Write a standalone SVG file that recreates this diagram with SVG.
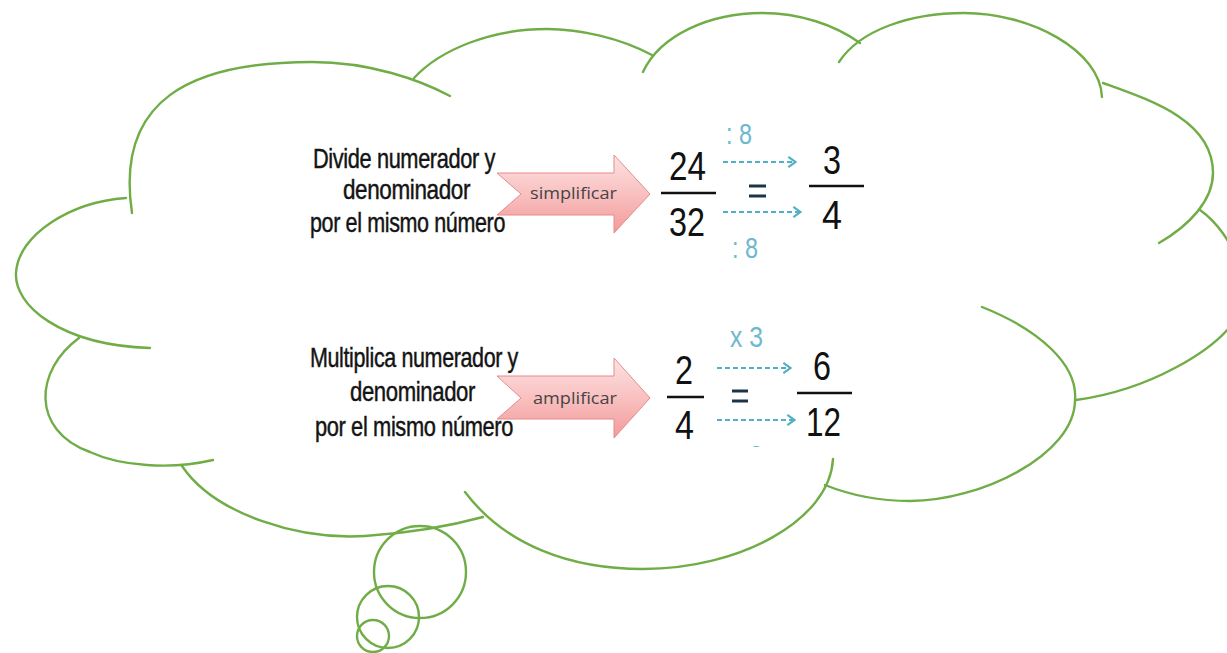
<svg xmlns="http://www.w3.org/2000/svg" width="1227" height="653" viewBox="0 0 1227 653">
  <defs>
    <style>
      .cloud { fill: none; stroke: #70ad47; stroke-width: 2.4; stroke-linecap: round; }
      .lbl { font-family: "Liberation Sans Narrow", "Liberation Sans", Arial, sans-serif; font-size: 28px; fill: #141414; stroke: #141414; stroke-width: 0.45; letter-spacing: -0.5px; }
      .atext { font-family: "Open Sans", "Liberation Sans", sans-serif; font-size: 16px; fill: #444444; }
      .num { font-family: "Liberation Sans Narrow", "Liberation Sans", Arial, sans-serif; font-size: 40px; fill: #111111; }
      .op { font-family: "Liberation Sans Narrow", "Liberation Sans", Arial, sans-serif; font-size: 29px; fill: #6db9cd; }
      .bar { stroke: #111111; stroke-width: 2.6; }
      .eq { stroke: #1d3447; stroke-width: 3; }
      .dash { stroke: #52b0c6; stroke-width: 2.2; stroke-dasharray: 5 3; fill: none; marker-end: url(#chev); }
      .bigarrow { fill: url(#pink); stroke: #e48c8c; stroke-width: 1; }
    </style>
    <linearGradient id="pink" x1="0" y1="0" x2="0" y2="1">
      <stop offset="0" stop-color="#fde3e3"/>
      <stop offset="0.5" stop-color="#f9c0c0"/>
      <stop offset="1" stop-color="#f29a9a"/>
    </linearGradient>
    <marker id="chev" viewBox="0 0 10 10" refX="8" refY="5" markerWidth="5.5" markerHeight="5.5" orient="auto" markerUnits="strokeWidth">
      <path d="M2.5,0.8 L8.5,5 L2.5,9.2" fill="none" stroke="#52b0c6" stroke-width="1.8"/>
    </marker>
    <clipPath id="cut">
      <rect x="700" y="430" width="100" height="17"/>
    </clipPath>
  </defs>

  <g id="cloud">
    <path class="cloud" d="M132,213 C115,100 190,62 312,62 C370,62 420,80 450,96"/>
    <path class="cloud" d="M414,78 C440,50 490,29 547,29 C580,29 620,38 652,55"/>
    <path class="cloud" d="M643,72 C660,35 710,13 762,13 C800,13 835,25 860,43"/>
    <path class="cloud" d="M839,62 C860,30 910,13 964,13 C1030,13 1100,50 1102,97"/>
    <path class="cloud" d="M1103,83 C1150,100 1213,120 1213,173 C1213,200 1190,225 1159,243"/>
    <path class="cloud" d="M1200,210 C1235,235 1255,290 1235,320 C1215,350 1150,390 1076,400"/>
    <path class="cloud" d="M982,307 C1040,330 1078,365 1075,400 C1075,455 980,501 910,501 C880,501 850,495 825,485"/>
    <path class="cloud" d="M833,459 C830,520 740,569 643,569 C570,569 505,545 465,492"/>
    <path class="cloud" d="M182,466 C215,515 300,540 365,536 C410,533 450,526 483,517"/>
    <path class="cloud" d="M79,338 C35,370 30,430 90,452 C120,466 170,470 213,460"/>
    <path class="cloud" d="M126,198 C70,202 18,235 16,273 C14,305 60,345 150,348"/>
  </g>

  <g id="bubbles">
    <circle class="cloud" cx="420" cy="572" r="46"/>
    <circle class="cloud" cx="388" cy="617" r="31"/>
    <circle class="cloud" cx="373" cy="636" r="16"/>
  </g>

  <g id="text-divide">
    <text class="lbl" x="313" y="168" textLength="182" lengthAdjust="spacingAndGlyphs">Divide numerador y</text>
    <text class="lbl" x="343" y="199" textLength="127" lengthAdjust="spacingAndGlyphs">denominador</text>
    <text class="lbl" x="310" y="232" textLength="195" lengthAdjust="spacingAndGlyphs">por el mismo número</text>
  </g>

  <g id="arrow-simplificar">
    <polygon class="bigarrow" points="497,173 614,173 614,155 650,194 614,233 614,215 497,215 521,194"/>
    <text class="atext" x="530" y="199" textLength="87" lengthAdjust="spacingAndGlyphs">simplificar</text>
  </g>

  <g id="fraction-24-32">
    <text class="num" x="669" y="180" textLength="37" lengthAdjust="spacingAndGlyphs">24</text>
    <line class="bar" x1="661" y1="193" x2="716" y2="193"/>
    <text class="num" x="669" y="236" textLength="36" lengthAdjust="spacingAndGlyphs">32</text>
  </g>

  <g id="equals-1">
    <line class="eq" x1="749" y1="186" x2="766" y2="186"/>
    <line class="eq" x1="749" y1="196" x2="766" y2="196"/>
  </g>

  <g id="fraction-3-4">
    <text class="num" x="823" y="174" textLength="18" lengthAdjust="spacingAndGlyphs">3</text>
    <line class="bar" x1="809" y1="186" x2="864" y2="186"/>
    <text class="num" x="822" y="229" textLength="20" lengthAdjust="spacingAndGlyphs">4</text>
  </g>

  <g id="op-div-top">
    <text class="op" x="726" y="144" textLength="26" lengthAdjust="spacingAndGlyphs">: 8</text>
  </g>
  <g id="op-div-bottom">
    <text class="op" x="732" y="258" textLength="26" lengthAdjust="spacingAndGlyphs">: 8</text>
  </g>

  <g id="text-multiplica">
    <text class="lbl" x="310" y="367" textLength="208" lengthAdjust="spacingAndGlyphs">Multiplica numerador y</text>
    <text class="lbl" x="350" y="401" textLength="125" lengthAdjust="spacingAndGlyphs">denominador</text>
    <text class="lbl" x="315" y="436" textLength="198" lengthAdjust="spacingAndGlyphs">por el mismo número</text>
  </g>

  <g id="arrow-amplificar">
    <polygon class="bigarrow" points="497,376 614,376 614,358 650,398 614,438 614,419 497,419 521,398"/>
    <text class="atext" x="533" y="404" textLength="84" lengthAdjust="spacingAndGlyphs">amplificar</text>
  </g>

  <g id="fraction-2-4">
    <text class="num" x="675" y="384" textLength="18" lengthAdjust="spacingAndGlyphs">2</text>
    <line class="bar" x1="667" y1="397" x2="704" y2="397"/>
    <text class="num" x="675" y="439" textLength="19" lengthAdjust="spacingAndGlyphs">4</text>
  </g>

  <g id="equals-2">
    <line class="eq" x1="732" y1="391" x2="748" y2="391"/>
    <line class="eq" x1="732" y1="401" x2="748" y2="401"/>
  </g>

  <g id="fraction-6-12">
    <text class="num" x="813" y="380" textLength="18" lengthAdjust="spacingAndGlyphs">6</text>
    <line class="bar" x1="797" y1="393" x2="852" y2="393"/>
    <text class="num" x="806" y="436" textLength="35" lengthAdjust="spacingAndGlyphs">12</text>
  </g>

  <g id="op-mul-top">
    <text class="op" x="730" y="347" textLength="33" lengthAdjust="spacingAndGlyphs">x 3</text>
  </g>
  <g id="op-mul-bottom" clip-path="url(#cut)">
    <text class="op" x="730" y="466" textLength="33" lengthAdjust="spacingAndGlyphs">x 3</text>
  </g>

  <g id="connectors">
    <line class="dash" x1="723" y1="162" x2="795" y2="162"/>
    <line class="dash" x1="723" y1="212" x2="800" y2="212"/>
    <line class="dash" x1="717" y1="368" x2="790" y2="368"/>
    <line class="dash" x1="717" y1="420" x2="794" y2="420"/>
  </g>
</svg>
